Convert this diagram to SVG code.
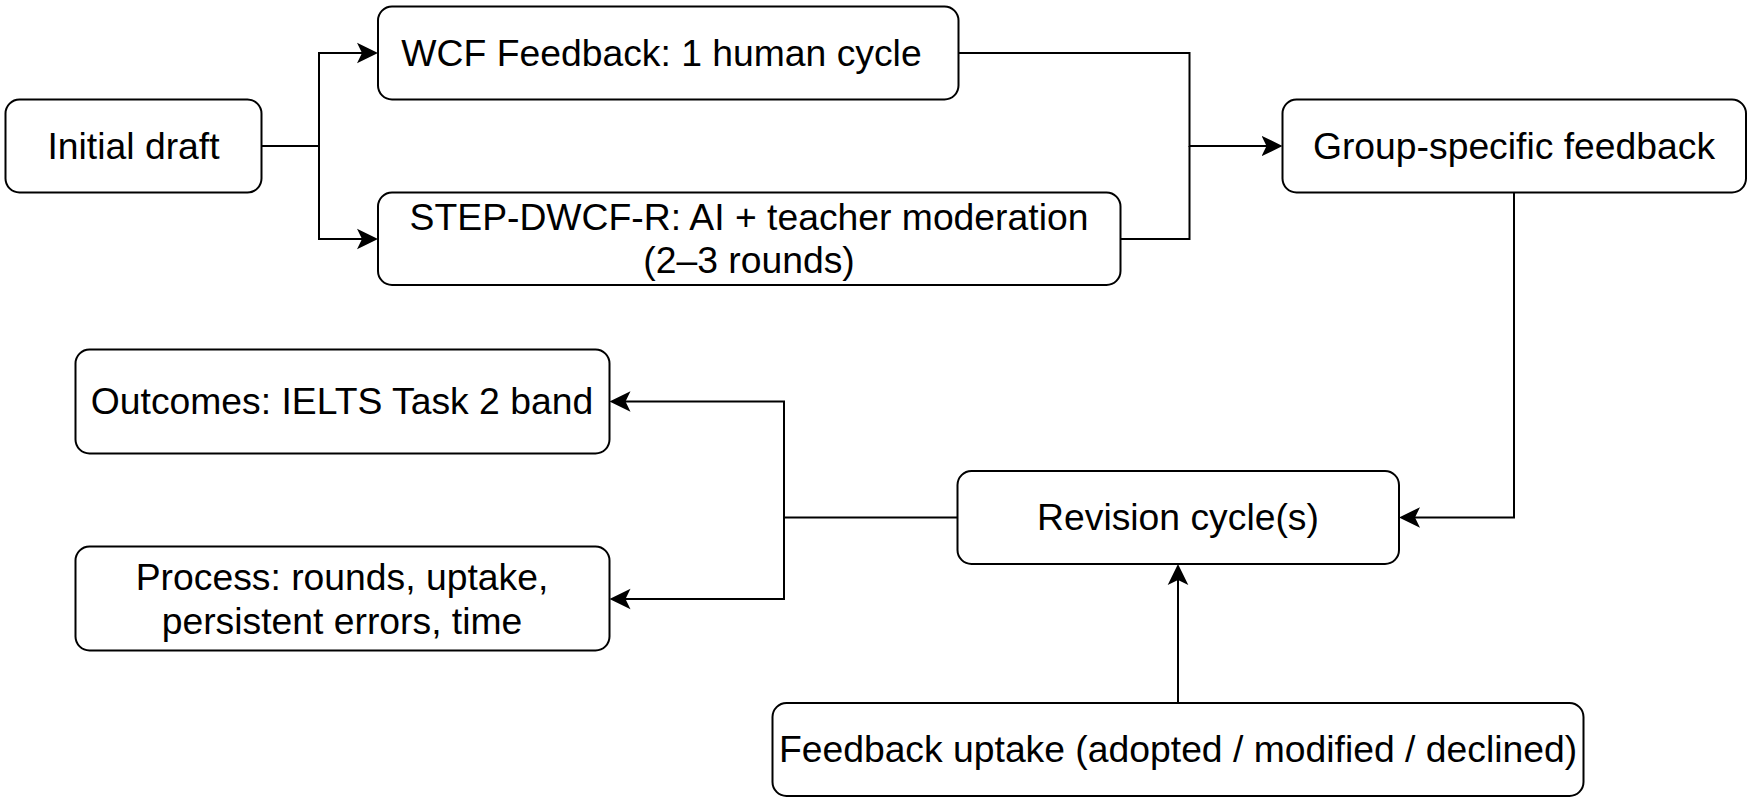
<svg xmlns="http://www.w3.org/2000/svg" width="1752" height="800" viewBox="0 0 1752 800">
<style>
.box{fill:#fff;stroke:#000;stroke-width:2}
.lbl{font-family:"Liberation Sans",Arial,sans-serif;font-size:37.3px;fill:#000;text-anchor:middle}
.edge{fill:none;stroke:#000;stroke-width:2}
</style>
<defs>
<marker id="arr" markerUnits="userSpaceOnUse" markerWidth="24" markerHeight="24" viewBox="0 0 24 24" refX="17" refY="12" orient="auto">
<path d="M21,12 L0,1.7 L5,12 L0,22.3 Z" fill="#000"/>
</marker>
</defs>
<rect width="1752" height="800" fill="#fff"/>
<g id="connectors">
<path class="edge" d="M262,146 H319 V53 H374" marker-end="url(#arr)"/>
<path class="edge" d="M319,146 V239 H374" marker-end="url(#arr)"/>
<path class="edge" d="M958.5,53 H1189.5 V146 H1278.5" marker-end="url(#arr)"/>
<path class="edge" d="M1120.5,239 H1189.5 V146"/>
<path class="edge" d="M1514,192.5 V517.5 H1403" marker-end="url(#arr)"/>
<path class="edge" d="M1178,703 V568" marker-end="url(#arr)"/>
<path class="edge" d="M957.5,517.5 H784 V401.5 H613.5" marker-end="url(#arr)"/>
<path class="edge" d="M784,517.5 V599 H613.5" marker-end="url(#arr)"/>
</g>
<g id="initial-draft">
<rect class="box" x="5.5" y="99.5" width="256" height="93" rx="14"/>
<text class="lbl" x="133.5" y="159">Initial draft</text>
</g>
<g id="wcf-feedback">
<rect class="box" x="378" y="6.5" width="580.5" height="93" rx="14"/>
<text class="lbl" x="661.5" y="66">WCF Feedback: 1 human cycle</text>
</g>
<g id="step-dwcf-r">
<rect class="box" x="378" y="192.5" width="742.5" height="92.5" rx="14"/>
<text class="lbl" x="749" y="229.5">STEP-DWCF-R: AI + teacher moderation</text>
<text class="lbl" x="749" y="272.5">(2–3 rounds)</text>
</g>
<g id="group-specific-feedback">
<rect class="box" x="1282.5" y="99.5" width="463.5" height="93" rx="14"/>
<text class="lbl" x="1514" y="159">Group-specific feedback</text>
</g>
<g id="outcomes">
<rect class="box" x="75.5" y="349.5" width="534" height="104" rx="14"/>
<text class="lbl" x="342" y="413.5">Outcomes: IELTS Task 2 band</text>
</g>
<g id="process">
<rect class="box" x="75.5" y="546.5" width="534" height="104" rx="14"/>
<text class="lbl" x="342" y="589.5">Process: rounds, uptake,</text>
<text class="lbl" x="342" y="634">persistent errors, time</text>
</g>
<g id="revision-cycles">
<rect class="box" x="957.5" y="471" width="441.5" height="93" rx="14"/>
<text class="lbl" x="1178" y="529.5">Revision cycle(s)</text>
</g>
<g id="feedback-uptake">
<rect class="box" x="772.5" y="703" width="811" height="93" rx="14"/>
<text class="lbl" x="1178" y="762">Feedback uptake (adopted / modified / declined)</text>
</g>
</svg>
